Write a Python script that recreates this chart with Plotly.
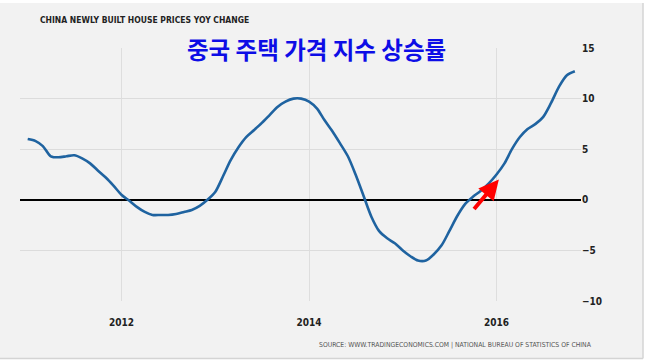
import plotly.graph_objects as go
import pandas as pd

# Data: China newly built house prices YoY change (%), monthly Jan 2011 - Nov 2016
dates = pd.date_range("2011-01-01", periods=71, freq="MS")
values = [
    6.0, 5.8, 5.3, 4.3, 4.2, 4.3, 4.4, 4.1, 3.6, 2.9, 2.2, 1.4,
    0.5, -0.1, -0.7, -1.2, -1.5, -1.5, -1.5, -1.4, -1.2, -1.0, -0.6, 0.0,
    0.8, 2.4, 3.9, 5.2, 6.2, 6.9, 7.6, 8.4, 9.2, 9.7, 10.0, 10.0,
    9.7, 9.0, 7.9, 6.8, 5.6, 4.3, 2.5, 0.4, -1.7, -3.1, -3.8, -4.3,
    -5.0, -5.6, -6.0, -6.0, -5.4, -4.5, -3.1, -1.6, -0.4, 0.3, 0.9, 1.6,
    2.5, 3.6, 5.0, 6.2, 7.0, 7.5, 8.2, 9.6, 11.2, 12.3, 12.7,
]
x_ticks = ["2012-01-01", "2014-01-01", "2016-01-01"]
x_tick_labels = ["2012", "2014", "2016"]
y_ticks = [-10, -5, 0, 5, 10, 15]

title_en = "CHINA NEWLY BUILT HOUSE PRICES YOY CHANGE"
title_ko = "중국 주택 가격 지수 상승률"
source_text = "SOURCE: WWW.TRADINGECONOMICS.COM | NATIONAL BUREAU OF STATISTICS OF CHINA"

W, H = 648, 361
L, R, T, B = 20, 67, 48, 60
PW, PH = W - L - R, H - T - B

def px(x):
    return (x - L) / PW

def py(y):
    return (H - B - y) / PH

narrow = "Liberation Sans Narrow, DejaVu Sans Condensed, Arial Narrow, sans-serif"

fig = go.Figure()
fig.add_trace(go.Scatter(
    x=dates, y=values, mode="lines",
    line=dict(color="#1f63a0", width=2.6, shape="spline", smoothing=0.8),
    hoverinfo="skip", showlegend=False,
))

shapes = [
    dict(type="rect", xref="paper", yref="paper", x0=px(-5), x1=px(W + 5), y0=py(3), y1=py(-5),
         fillcolor="white", line_width=0, layer="above"),
    dict(type="rect", xref="paper", yref="paper", x0=px(643), x1=px(W + 5), y0=py(H + 5), y1=py(-5),
         fillcolor="white", line_width=0, layer="above"),
    dict(type="rect", xref="paper", yref="paper", x0=px(-5), x1=px(W + 5), y0=py(H + 5), y1=py(358),
         fillcolor="white", line_width=0, layer="above"),
    dict(type="line", xref="paper", yref="paper", x0=px(643), x1=px(643), y0=py(358.5), y1=py(3),
         line=dict(color="#d4d4d4", width=1.5), layer="above"),
    dict(type="line", xref="paper", yref="paper", x0=px(0), x1=px(643), y0=py(358.5), y1=py(358.5),
         line=dict(color="#d4d4d4", width=1.5), layer="above"),
]

annotations = [
    dict(text=title_en, xref="paper", yref="paper", x=px(38), y=py(20),
         xanchor="left", yanchor="middle", showarrow=False,
         font=dict(family=narrow, size=8.5, color="#222222", weight="bold")),
    dict(text=title_ko, xref="paper", yref="paper", x=px(316), y=py(49),
         xanchor="center", yanchor="middle", showarrow=False,
         font=dict(family="Noto Sans CJK KR", size=23.5, color="#0d0de6", weight="bold")),
    dict(text=source_text, xref="paper", yref="paper", x=px(594), y=py(345),
         xanchor="right", yanchor="middle", showarrow=False,
         font=dict(family=narrow, size=6.8, color="#555555")),
    dict(text="", x="2016-01-10", y=2.0, xref="x", yref="y",
         showarrow=True, arrowhead=2, arrowsize=1, arrowwidth=4, arrowcolor="#ff0000",
         ax=-26, ay=31, standoff=0),
]

fig.update_layout(
    width=W, height=H,
    margin=dict(l=L, r=R, t=T, b=B, pad=0),
    paper_bgcolor="#f2f2f2", plot_bgcolor="#f2f2f2",
    shapes=shapes, annotations=annotations,
    xaxis=dict(
        type="date", range=["2010-12-02", "2016-11-25"],
        tickvals=x_ticks, ticktext=x_tick_labels,
        showgrid=True, gridcolor="#dedede", gridwidth=1,
        showline=False, zeroline=False, ticks="",
        tickfont=dict(family=narrow, size=10, color="#222222", weight="bold"),
        ticklabelstandoff=14,
        fixedrange=True,
    ),
    yaxis=dict(
        range=[-10, 15], tickvals=y_ticks, side="right",
        showgrid=True, gridcolor="#dcdcdc", gridwidth=1,
        zeroline=True, zerolinecolor="#000000", zerolinewidth=2,
        showline=False, ticks="",
        tickfont=dict(family=narrow, size=10, color="#222222", weight="bold"),
        fixedrange=True,
    ),
)

fig.write_html(
    "out.html",
    config={"displayModeBar": False, "staticPlot": True},
    post_script="document.body.style.margin='0';document.body.style.overflow='hidden';",
)
